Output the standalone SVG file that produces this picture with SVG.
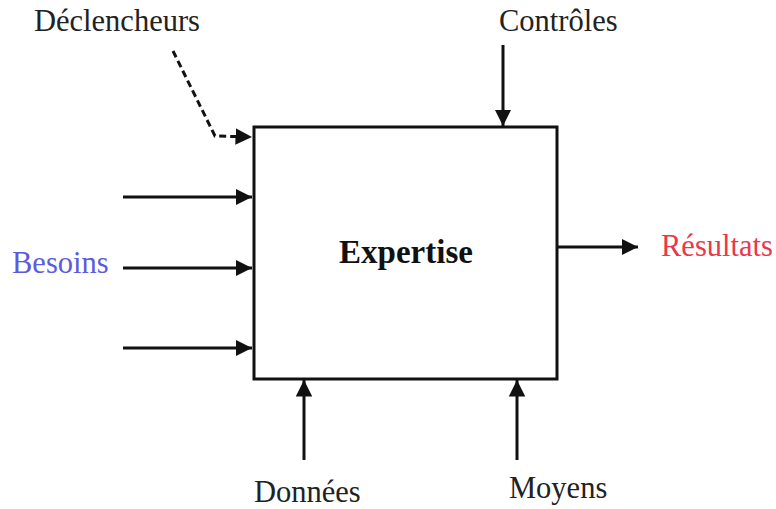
<svg xmlns="http://www.w3.org/2000/svg" width="776" height="509" viewBox="0 0 776 509">
  <style>
    .lbl { font-family: "Liberation Serif", "Times New Roman", serif; font-size: 30.5px; fill: #222; }
    .wire { stroke: #111; stroke-width: 3; fill: none; }
  </style>
  <defs>
    <marker id="ah" viewBox="0 0 10 10" refX="10" refY="5" markerWidth="5.5" markerHeight="5.5" orient="auto" markerUnits="strokeWidth">
      <path d="M0,0 L10,5 L0,10 z" fill="#111"/>
    </marker>
  </defs>
  <rect width="776" height="509" fill="#fff"/>

  <g id="expertise">
    <rect x="254" y="127" width="303" height="252" fill="#fff" stroke="#111" stroke-width="3"/>
    <text x="406" y="263" text-anchor="middle" style="font-family:'Liberation Serif','Times New Roman',serif;font-size:33px;font-weight:bold;fill:#111">Expertise</text>
  </g>

  <g id="declencheurs">
    <text class="lbl" x="34" y="31">Déclencheurs</text>
  </g>
  <g id="controles">
    <text class="lbl" x="499" y="31">Contrôles</text>
  </g>
  <g id="besoins">
    <text class="lbl" x="12" y="273" style="fill:#5b5be0">Besoins</text>
  </g>
  <g id="resultats">
    <text class="lbl" x="661" y="256" style="fill:#e8384c">Résultats</text>
  </g>
  <g id="donnees">
    <text class="lbl" x="254" y="502">Données</text>
  </g>
  <g id="moyens">
    <text class="lbl" x="509" y="498">Moyens</text>
  </g>

  <g id="connectors">
    <polyline class="wire" points="173,51 215,136 252,137" stroke-dasharray="7,4" marker-end="url(#ah)"/>
    <line class="wire" x1="503" y1="45" x2="503" y2="126" marker-end="url(#ah)"/>
    <line class="wire" x1="123" y1="197" x2="252" y2="197" marker-end="url(#ah)"/>
    <line class="wire" x1="123" y1="268" x2="252" y2="268" marker-end="url(#ah)"/>
    <line class="wire" x1="123" y1="348" x2="252" y2="348" marker-end="url(#ah)"/>
    <line class="wire" x1="557" y1="247" x2="638" y2="247" marker-end="url(#ah)"/>
    <line class="wire" x1="304" y1="460" x2="304" y2="380" marker-end="url(#ah)"/>
    <line class="wire" x1="517" y1="460" x2="517" y2="380" marker-end="url(#ah)"/>
  </g>
</svg>
